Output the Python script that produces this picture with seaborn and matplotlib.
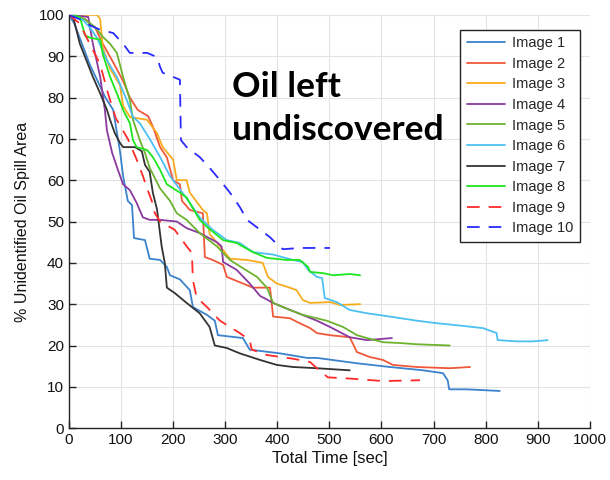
import matplotlib
matplotlib.use("Agg")
import matplotlib.pyplot as plt
import seaborn as sns
import pandas as pd

# ---- data (time [sec], % unidentified area) ----
t1 = [0, 10, 25, 40, 55, 70, 85, 98, 104, 113, 121, 125, 146, 155, 175, 188, 194, 213, 232, 238, 265, 280, 286, 334, 347, 405, 457, 476, 553, 616, 680, 718, 727, 730, 763, 827]
v1 = [100, 98, 93, 88, 84, 80, 77, 67, 61, 55, 54, 46, 45.5, 41, 40.7, 39, 37, 36, 33.4, 29.3, 27.4, 26, 22.5, 21.8, 19, 18.1, 17, 17, 15.7, 14.8, 14, 13.3, 11.6, 9.4, 9.4, 9.0]

t2 = [0, 30, 50, 65, 85, 104, 117, 132, 152, 161, 175, 188, 200, 213, 217, 232, 257, 261, 276, 296, 303, 334, 353, 386, 392, 424, 443, 463, 476, 501, 539, 553, 578, 603, 622, 668, 731, 770]
v2 = [100, 99, 97, 93, 88.5, 84, 80, 77, 75.5, 73, 68, 65.5, 60, 59, 55, 52.8, 52, 41.4, 40.7, 39.5, 36.6, 35, 34, 34, 27, 26.6, 25.4, 24.2, 23, 22.5, 22, 18.4, 17.2, 16.5, 15.3, 14.8, 14.5, 14.8]

t3 = [0, 54, 60, 65, 79, 98, 104, 117, 150, 169, 180, 200, 207, 226, 232, 257, 265, 270, 290, 309, 342, 372, 382, 399, 424, 437, 449, 463, 501, 520, 559]
v3 = [100, 100, 99, 92, 87, 83, 78, 75.3, 74.6, 71.4, 68, 65, 60, 60, 57, 52.8, 52, 47, 44, 41, 40.7, 40, 36.6, 35, 34, 33.4, 31, 30.3, 30.5, 29.8, 30]

t4 = [0, 37, 46, 60, 69, 73, 83, 94, 104, 117, 130, 142, 155, 175, 207, 226, 251, 284, 293, 296, 322, 347, 367, 392, 411, 476, 501, 539, 572, 620]
v4 = [100, 99.5, 93, 85, 77, 72, 66.6, 62.5, 59, 57.6, 54.5, 51, 50.4, 50.4, 50, 48.4, 47.2, 45, 44, 40.2, 38.3, 35, 32, 30.3, 29.3, 26, 24.5, 22, 21.3, 21.8]

t5 = [0, 30, 50, 65, 79, 92, 104, 117, 123, 136, 146, 155, 175, 194, 207, 226, 251, 284, 309, 334, 361, 380, 392, 424, 449, 495, 526, 553, 572, 603, 635, 668, 731]
v5 = [100, 99, 97, 94.7, 93, 90.8, 85, 79.4, 74.6, 69.7, 66.6, 63, 58, 55, 52, 50.4, 47.2, 44, 40.7, 38.7, 36.6, 34, 30.3, 28.6, 27.4, 26, 24.5, 22.5, 21.8, 20.8, 20.6, 20.3, 20]

t6 = [0, 25, 40, 54, 73, 92, 111, 123, 136, 155, 175, 194, 213, 232, 251, 276, 303, 328, 353, 392, 430, 449, 459, 476, 486, 491, 514, 539, 572, 616, 668, 706, 745, 795, 821, 823, 860, 891, 919]
v6 = [100, 99, 97, 94.4, 89, 85, 79.4, 75.3, 73.8, 70, 65.6, 61, 57.8, 54.5, 51, 48, 45.5, 44.8, 42.6, 42, 40.7, 40.2, 38.3, 36.6, 36.3, 31.5, 30.5, 28.6, 27.8, 27, 26, 25.4, 24.9, 24.2, 23, 21.3, 21, 21, 21.3]

t7 = [0, 8, 21, 46, 60, 73, 79, 88, 98, 104, 127, 140, 146, 155, 161, 169, 178, 184, 188, 203, 226, 251, 270, 280, 303, 328, 367, 399, 430, 476, 539]
v7 = [100, 99.5, 93, 85, 81, 77, 74.6, 71.4, 69, 68, 68, 67, 63.7, 62, 57, 53, 44, 40, 34, 32.7, 30.3, 27.8, 24.5, 20, 19.4, 18.1, 16.5, 15.3, 14.8, 14.5, 14]

t8 = [0, 21, 31, 40, 60, 65, 79, 92, 104, 117, 123, 130, 150, 161, 175, 188, 213, 226, 251, 265, 296, 322, 353, 380, 418, 443, 459, 463, 488, 507, 539, 559]
v8 = [100, 99.5, 95, 94.5, 94, 90.5, 85, 81, 77, 73.8, 69.7, 68, 67.3, 65.6, 62.5, 59, 57, 55.8, 50.4, 48.7, 45.5, 44.8, 42.6, 41.2, 40.7, 40.7, 39, 37.8, 37.5, 37, 37.3, 37]

t9 = [0, 20, 40, 60, 75, 90, 113, 130, 142, 150, 159, 165, 175, 203, 226, 236, 238, 245, 265, 290, 328, 347, 351, 380, 430, 463, 476, 497, 539, 603, 674]
v9 = [100, 98, 93, 88, 81, 75, 70, 65, 61, 58, 55, 52, 50, 48, 44, 42.4, 35.8, 31.7, 29.3, 26, 23, 21.3, 19, 17.7, 16.8, 16, 14.5, 12.3, 12, 11.4, 11.6]

t10 = [0, 20, 40, 60, 85, 104, 117, 150, 169, 175, 180, 200, 213, 215, 226, 251, 270, 290, 309, 328, 342, 367, 386, 405, 411, 443, 501]
v10 = [100, 99, 97.5, 96.4, 95.6, 93, 90.8, 90.8, 89.8, 87.4, 86, 85, 84.3, 69.7, 68, 65.6, 63, 60, 57, 53.5, 50.4, 48, 46.2, 43.8, 43.3, 43.6, 43.6]

labels = ["Image 1", "Image 2", "Image 3", "Image 4", "Image 5",
          "Image 6", "Image 7", "Image 8", "Image 9", "Image 10"]
times = [t1, t2, t3, t4, t5, t6, t7, t8, t9, t10]
values = [v1, v2, v3, v4, v5, v6, v7, v8, v9, v10]

colors = ["#3a82cc", "#f0583a", "#f7ac1e", "#8a3a9e", "#6cb22e",
          "#4cc0f2", "#333333", "#1ee61e", "#ff2a2a", "#2a2aff"]
dashed = [False] * 8 + [True, True]

sns.set_theme(style="white")
plt.rcParams['font.family'] = ['Liberation Sans', 'DejaVu Sans']

fig = plt.figure(figsize=(6.1, 4.8), dpi=100)
ax = fig.add_axes([0.113, 0.108, 0.854, 0.861])

for lab, tt, vv, c, d in zip(labels, times, values, colors, dashed):
    df = pd.DataFrame({"t": tt, "v": vv})
    sns.lineplot(data=df, x="t", y="v", ax=ax, color=c, lw=1.3,
                 sort=False, estimator=None, label=lab,
                 linestyle=(0, (7, 5)) if d else "-")

ax.set_xlim(0, 1000)
ax.set_ylim(0, 100)
ax.set_xticks(range(0, 1001, 100))
ax.set_yticks(range(0, 101, 10))
ax.grid(True, color="#e3e3e3", lw=0.8)
for s in ["top", "right"]:
    ax.spines[s].set_visible(False)
for s in ["left", "bottom"]:
    ax.spines[s].set_color("#222222")
    ax.spines[s].set_linewidth(1.0)
ax.tick_params(direction="in", length=5, width=1, colors="#222222",
               labelsize=11, labelcolor="#111111", left=True, bottom=True)
ax.set_xlabel("Total Time [sec]", fontsize=12, color="#111111", labelpad=3)
ax.set_ylabel("% Unidentified Oil Spill Area", fontsize=11.5, color="#111111", labelpad=6)

leg = ax.legend(loc="upper right", bbox_to_anchor=(0.981, 0.964), fontsize=10.5,
                frameon=True, fancybox=False, edgecolor="#222222",
                handlelength=2.6, labelspacing=0.45, borderpad=0.45,
                handletextpad=0.5, borderaxespad=0)
leg.get_frame().set_linewidth(1.0)
leg.get_frame().set_facecolor("white")
leg.get_frame().set_alpha(1)

ax.text(313, 86.5, "Oil left\nundiscovered", fontsize=25.5, fontweight="bold",
        family=["Lato", "DejaVu Sans"], color="black", va="top", ha="left",
        linespacing=1.45, transform=ax.transData)

fig.savefig("out.png", dpi=100)
